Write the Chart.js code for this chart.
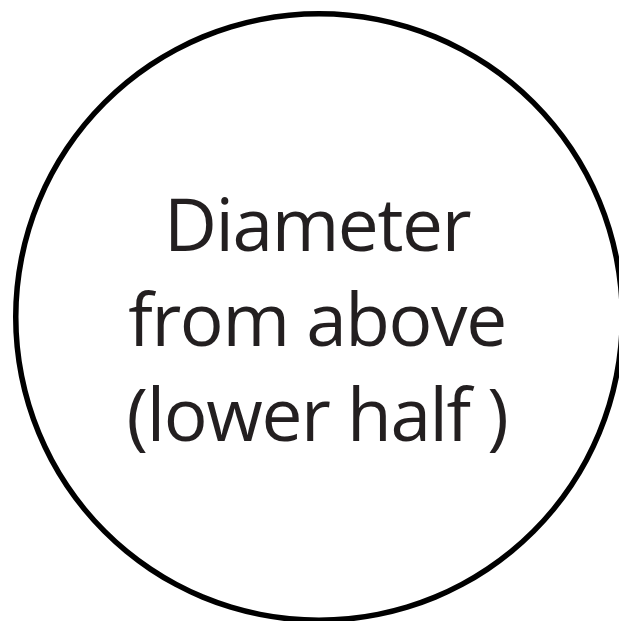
<!DOCTYPE html>
<html>
<head>
<meta charset="utf-8">
<script src="https://cdn.jsdelivr.net/npm/chart.js@4.4.0/dist/chart.umd.min.js"></script>
<style>
  html, body { margin: 0; padding: 0; background: #ffffff; }
  #wrap { width: 619px; height: 621px; }
</style>
</head>
<body>
<div id="wrap"><canvas id="circlechart"></canvas></div>
<script>
// one whole ring = the circle outline
const sliceLabels = ["Diameter from above (lower half)"];
const sliceValues = [1];
// text inside the circle, one entry per line
const textLines = ["Diameter", "from above", "(lower half )"];

const centerText = {
    id: 'centerText',
    afterDraw(chart) {
        const arc = chart.getDatasetMeta(0).data[0];
        const ctx = chart.ctx;
        ctx.save();
        ctx.fillStyle = '#231f20';
        ctx.font = '73px "Open Sans"';
        ctx.letterSpacing = '-1.4px';
        ctx.textAlign = 'center';
        ctx.textBaseline = 'alphabetic';
        const lineGap = 95;
        for (let i = 0; i < textLines.length; i++) {
            ctx.fillText(textLines[i], arc.x - 2, arc.y - 66 + i * lineGap);
        }
        ctx.restore();
    }
};

function initCircleChart() {
    var ctx = document.getElementById('circlechart').getContext('2d');
    var myCircleChart = new Chart(ctx, {
        type: 'doughnut',
        data: {
            labels: sliceLabels,
            datasets: [{
                data: sliceValues,
                backgroundColor: '#000000',
                hoverBackgroundColor: '#000000',
                borderWidth: 0,
                hoverBorderWidth: 0,
                clip: false
            }]
        },
        options: {
            responsive: true,
            maintainAspectRatio: false,
            animation: false,
            events: [],
            radius: 306,
            cutout: '98.2%',
            layout: { padding: { left: 19, right: 0, top: 13, bottom: 0 } },
            plugins: {
                legend: { display: false },
                tooltip: { enabled: false },
                title: { display: false }
            }
        },
        plugins: [centerText]
    });
}
initCircleChart();
</script>
</body>
</html>
